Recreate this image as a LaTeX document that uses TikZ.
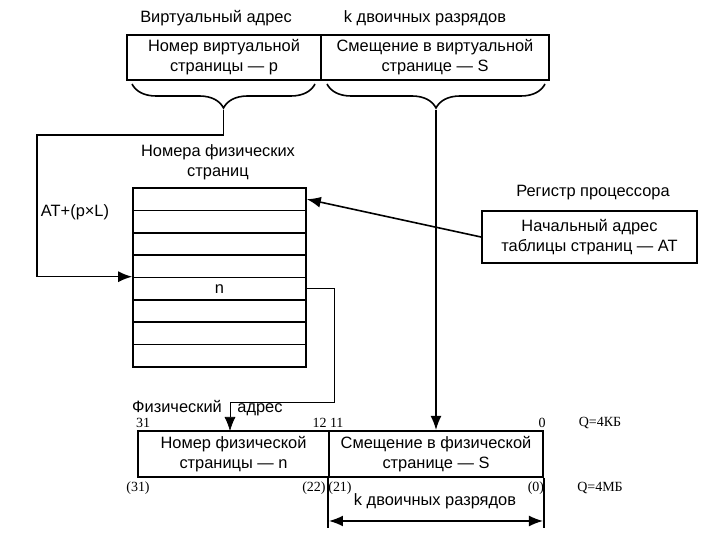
\documentclass[tikz,border=0pt]{standalone}
\usepackage{fontspec}
\setmainfont{Liberation Sans}
\newfontfamily\tms{Liberation Serif}
\usetikzlibrary{arrows.meta,decorations.pathreplacing,calc}
\begin{document}
\begin{tikzpicture}[x=0.5pt,y=-0.5pt,
  txt/.style={font=\fontsize{8.2}{10}\selectfont, align=center, inner sep=0pt},
  num/.style={font=\tms\fontsize{7}{8}\selectfont, inner sep=0pt},
  box/.style={draw, line width=1pt, txt},
  rowbox/.style={draw, line width=0.8pt, minimum width=86.5pt, minimum height=11.19pt, inner sep=0pt, font=\fontsize{8.2}{10}\selectfont},
  arr/.style={line width=0.8pt, -{Latex[length=7pt,width=5.5pt]}},
  thinarr/.style={line width=0.35pt, -{Latex[length=7pt,width=5.5pt]}},
  brc/.style={line width=0.8pt, decorate, decoration={brace, mirror, amplitude=12pt}}
]
\useasboundingbox (0,0) rectangle (720,540);

% top labels
\node[txt] (tva) at (216,18) {Виртуальный адрес};
\node[txt] (tkd) at (425,18) {k двоичных разрядов};

% virtual address
\node[box, minimum width=97pt, minimum height=22.5pt] (vL) at (224,57.5) {Номер виртуальной\\страницы — p};
\node[box, minimum width=114pt, minimum height=22.5pt] (vR) at (435,57.5) {Смещение в виртуальной\\странице — S};

% braces
\draw[brc] (132,84) -- (315,84);
\draw[brc] (327,84) -- (545,84);
\coordinate (bl) at (223.5,110);
\coordinate (br) at (436,110);

% page table
\node[txt] (ttl) at (218,162) {Номера физических\\страниц};
\foreach \i in {1,...,8}{
  \node[rowbox] (r\i) at (219.5,{188+22.375*(\i-0.5)}) {};
}
\node[txt] (nn) at (r5) {n};

% register
\node[txt] (treg) at (593,193) {Регистр процессора};
\node[box, minimum width=107.5pt, minimum height=26pt] (reg) at (589.5,237) {Начальный адрес\\таблицы страниц — AT};

% physical address
\node[box, minimum width=95.5pt, minimum height=23pt] (bL) at (233.5,454) {Номер физической\\страницы — n};
\node[box, minimum width=107pt, minimum height=23pt] (bR) at (436,454) {Смещение в физической\\странице — S};

\node[txt, anchor=base] (tfa) at (177,413) {Физический};
\node[txt, anchor=base] (tad) at (260,413) {адрес};

% bit numbers
\node[num] (b31) at (143,423) {31};
\node[num] (b1211) at (328,423) {12 11};
\node[num] (b0) at (542,423) {0};
\node[num] (q1) at (600,423) {Q=4КБ};
\node[num] (c31) at (138,488) {(31)};
\node[num] (c22) at (314,488) {(22)};
\node[num] (c21) at (340,488) {(21)};
\node[num] (c0) at (536,488) {(0)};
\node[num] (q2) at (600,488) {Q=4МБ};

% bottom dimension
\node[txt] (tkb) at (435,501) {k двоичных разрядов};
\coordinate (d1) at (329,521);
\coordinate (d2) at (543,521);
\draw[line width=0.8pt] (bR.south west) -- ++(0,50);
\draw[line width=0.8pt] (bR.south east) -- ++(0,50);
\draw[line width=0.8pt, {Latex[length=7pt,width=5.5pt]}-{Latex[length=7pt,width=5.5pt]}] (d1) -- (d2);

% connectors
\node[txt] (atp) at (75,212) {AT+(p×L)};
\coordinate (c1) at (37,135);
\draw[arr] (bl) |- (c1) |- (r5.north west);
\draw[arr] (br) -- (br |- bR.north);
\draw[arr] (reg.west) -- (r1.east);
\coordinate (c2) at (334,402);
\coordinate (c3) at (230,431);
\draw[thinarr] (r5.east) -| (c2) -| (c3);
\end{tikzpicture}
\end{document}
